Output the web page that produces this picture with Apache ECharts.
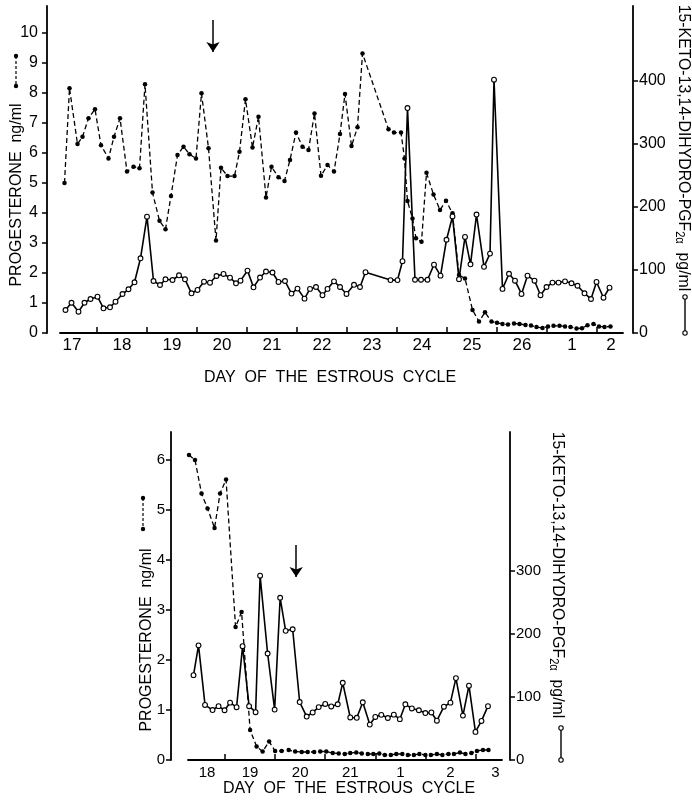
<!DOCTYPE html>
<html>
<head>
<meta charset="utf-8">
<script src="https://cdn.jsdelivr.net/npm/echarts@6/dist/echarts.min.js"></script>
<style>
  html, body { margin: 0; padding: 0; background: #fff; }
  #chart { width: 692px; height: 801px; }
</style>
</head>
<body>
<div id="chart"></div>
<script>
// ---- data (x = days from start of panel, y = value) ----
const dayLabelsTop = ['17', '18', '19', '20', '21', '22', '23', '24', '25', '26', '1', '2'];
const dayLabelsBottom = ['18', '19', '20', '21', '1', '2', '3'];
const progTicksTop = [0, 1, 2, 3, 4, 5, 6, 7, 8, 9, 10];
const pgfTicksTop = [0, 100, 200, 300, 400];
const progTicksBottom = [0, 1, 2, 3, 4, 5, 6];
const pgfTicksBottom = [0, 100, 200, 300];

// top panel: progesterone (ng/ml)
const progTopDay = [
  0.35, 0.45, 0.61, 0.71, 0.83, 0.96, 1.08, 1.23, 1.34, 1.46,
  1.60, 1.73, 1.85, 1.96, 2.11, 2.25, 2.37, 2.48, 2.61, 2.73,
  2.85, 2.98, 3.09, 3.23, 3.38, 3.48, 3.61, 3.75, 3.85, 3.97,
  4.11, 4.23, 4.38, 4.49, 4.63, 4.75, 4.86, 4.98, 5.11, 5.23,
  5.35, 5.48, 5.61, 5.74, 5.86, 5.96, 6.09, 6.21, 6.31, 6.83,
  6.94, 7.08, 7.15, 7.21, 7.31, 7.38, 7.49, 7.59, 7.73, 7.86,
  7.98, 8.11, 8.24, 8.36, 8.51, 8.64, 8.76, 8.89, 9.00, 9.11,
  9.22, 9.34, 9.45, 9.57, 9.68, 9.79, 9.91, 10.02, 10.13, 10.25,
  10.36, 10.47, 10.59, 10.70, 10.81, 10.93, 11.04, 11.15, 11.27
];
const progTop = [
  5.0, 8.16, 6.3, 6.54, 7.16, 7.46, 6.26, 5.82, 6.54, 7.16,
  5.38, 5.54, 5.49, 8.29, 4.68, 3.74, 3.46, 4.57, 5.93, 6.21,
  5.96, 5.82, 7.99, 6.16, 3.08, 5.51, 5.23, 5.23, 6.04, 7.79,
  6.18, 7.21, 4.52, 5.54, 5.19, 5.07, 5.77, 6.68, 6.21, 6.1,
  7.32, 5.24, 5.6, 5.38, 6.63, 7.97, 6.23, 6.86, 9.32, 6.79,
  6.68, 6.68, 5.82, 4.4, 3.82, 3.16, 3.04, 5.34, 4.62, 4.1,
  4.41, 3.99, 1.93, 1.82, 0.77, 0.38, 0.69, 0.38, 0.34, 0.3,
  0.28, 0.32, 0.3, 0.27, 0.25, 0.2, 0.17, 0.22, 0.24, 0.24,
  0.22, 0.2, 0.15, 0.16, 0.26, 0.3, 0.22, 0.2, 0.22
];

// top panel: 15-keto-13,14-dihydro-PGF2a (pg/ml)
const pgfTopDay = [
  0.37, 0.49, 0.63, 0.75, 0.87, 1.01, 1.13, 1.26, 1.37, 1.51,
  1.63, 1.75, 1.87, 2.0, 2.13, 2.26, 2.37, 2.51, 2.64, 2.76,
  2.89, 3.01, 3.14, 3.26, 3.39, 3.53, 3.66, 3.78, 3.87, 4.01,
  4.13, 4.26, 4.38, 4.51, 4.63, 4.76, 4.89, 5.01, 5.15, 5.26,
  5.38, 5.51, 5.61, 5.74, 5.86, 5.99, 6.14, 6.26, 6.37, 6.87,
  7.01, 7.11, 7.21, 7.36, 7.48, 7.61, 7.74, 7.87, 7.99, 8.11,
  8.24, 8.36, 8.47, 8.59, 8.74, 8.86, 8.94, 9.11, 9.24, 9.36,
  9.49, 9.61, 9.75, 9.87, 9.99, 10.11, 10.23, 10.36, 10.49, 10.61,
  10.75, 10.88, 10.99, 11.13, 11.25
];
const pgfTop = [
  36.5, 48, 33.8, 48, 54, 57.6, 39.2, 40.8, 49.7, 61.9,
  69.4, 80.5, 118.6, 184.6, 82.5, 76.2, 85.2, 84.1, 91.6, 85.2,
  63, 68.3, 81.4, 79.8, 90.5, 93.7, 87.8, 78.9, 83, 99,
  72.5, 88, 97.6, 96, 81, 82.5, 62.5, 70.5, 54.5, 70,
  73, 60, 70, 82, 73, 62, 76.5, 73, 96.5, 84,
  84, 114, 357, 84.5, 84.5, 84.5, 108.5, 91, 148, 185,
  85.5, 152.5, 109, 188, 105, 126, 402, 70, 94, 83,
  62, 91, 83, 60, 73, 80, 80, 82, 79, 75,
  63, 54, 81, 56, 72
];

// bottom panel: progesterone (ng/ml)
const progBottomDay = [
  0.28, 0.4, 0.53, 0.65, 0.79, 0.9, 1.02, 1.21, 1.33, 1.5,
  1.63, 1.75, 1.88, 2.0, 2.13, 2.27, 2.4, 2.53, 2.65, 2.78,
  2.9, 3.02, 3.15, 3.27, 3.39, 3.5, 3.62, 3.73, 3.85, 3.96,
  4.08, 4.19, 4.31, 4.42, 4.54, 4.65, 4.77, 4.88, 5.0, 5.11,
  5.23, 5.34, 5.46, 5.57, 5.69, 5.8, 5.92, 6.03, 6.15, 6.26
];
const progBottom = [
  6.1, 6.0, 5.33, 5.03, 4.64, 5.33, 5.61, 2.66, 2.96, 0.6,
  0.27, 0.17, 0.37, 0.18, 0.18, 0.2, 0.17, 0.16, 0.16, 0.16,
  0.17, 0.17, 0.14, 0.13, 0.12, 0.14, 0.15, 0.13, 0.12, 0.12,
  0.13, 0.1, 0.1, 0.12, 0.12, 0.1, 0.1, 0.12, 0.1, 0.1,
  0.12, 0.1, 0.12, 0.12, 0.15, 0.12, 0.14, 0.18, 0.2, 0.2
];

// bottom panel: 15-keto-13,14-dihydro-PGF2a (pg/ml)
const pgfBottomDay = [
  0.37, 0.47, 0.6, 0.75, 0.87, 0.99, 1.1, 1.23, 1.35, 1.48,
  1.61, 1.7, 1.85, 1.99, 2.1, 2.21, 2.35, 2.49, 2.63, 2.75,
  2.87, 3.0, 3.12, 3.25, 3.35, 3.5, 3.63, 3.75, 3.89, 4.0,
  4.12, 4.25, 4.37, 4.49, 4.6, 4.73, 4.87, 5.0, 5.12, 5.23,
  5.37, 5.5, 5.61, 5.75, 5.87, 6.0, 6.12, 6.25
];
const pgfBottom = [
  134.7, 182, 87.4, 79.3, 85.5, 79, 91, 83.8, 180.7, 85.4,
  75.9, 292.5, 169, 80, 257.5, 205, 207.5, 92, 69, 75.5,
  84, 89, 85, 88.5, 122.5, 67.5, 67, 91.6, 56.2, 68.3,
  71.7, 66.7, 72, 64.8, 88.4, 81.8, 79, 74.5, 75.5, 62.4,
  84.6, 91, 130, 70.5, 118, 44.6, 62, 85.5
];

// treatment arrows (day, from value, to value on the progesterone scale)
const arrowTop = [3.32, 10.43, 9.37];
const arrowBottom = [2.42, 4.3, 3.66];

// ---- chart ----
const FONT = '"Liberation Sans", Arial, sans-serif';
const chart = echarts.init(document.getElementById('chart'));

function pairs(xs, ys) {
  return xs.map((x, i) => [x, ys[i]]);
}

function dayAxis(grid, min, max, ticks, labelPos, labels, size, margin) {
  return {
    type: 'value', gridIndex: grid, min: min, max: max,
    axisLine: { show: true, onZero: false, lineStyle: { color: '#000', width: 1.8 } },
    axisTick: { show: true, inside: true, length: 6, customValues: ticks, lineStyle: { color: '#000', width: 1.5 } },
    axisLabel: {
      customValues: labelPos, color: '#000', fontSize: size, fontFamily: FONT, margin: margin,
      formatter: v => labels[Math.floor(v + 1e-6)]
    },
    splitLine: { show: false }
  };
}

function valAxis(grid, pos, offset, max, ticks, size, margin) {
  return {
    type: 'value', gridIndex: grid, position: pos, offset: offset, min: 0, max: max,
    axisLine: { show: true, lineStyle: { color: '#000', width: 1.8 } },
    axisTick: { show: true, length: 5, customValues: ticks, lineStyle: { color: '#000', width: 1.5 } },
    axisLabel: { customValues: ticks, color: '#000', fontSize: size, fontFamily: FONT, margin: margin },
    splitLine: { show: false }
  };
}

function progSeries(x, y, days, vals, arrow) {
  return {
    type: 'line', xAxisIndex: x, yAxisIndex: y, data: pairs(days, vals),
    symbol: 'circle', symbolSize: 4.5, z: 2,
    lineStyle: { color: '#000', width: 1.3, type: [5, 3] },
    itemStyle: { color: '#000' },
    emphasis: { disabled: true },
    markLine: {
      silent: true, animation: false, symbol: ['none', 'arrow'], symbolSize: 10,
      label: { show: false },
      lineStyle: { color: '#000', width: 1.5, type: 'solid' },
      data: [[{ coord: [arrow[0], arrow[1]] }, { coord: [arrow[0], arrow[2]] }]]
    }
  };
}

function pgfSeries(x, y, days, vals) {
  return {
    type: 'line', xAxisIndex: x, yAxisIndex: y, data: pairs(days, vals),
    symbol: 'circle', symbolSize: 4.8, z: 3,
    lineStyle: { color: '#000', width: 1.6 },
    itemStyle: { color: '#fff', borderColor: '#000', borderWidth: 1.1 },
    emphasis: { disabled: true }
  };
}

function vText(x, y, text, rot, size, sx) {
  return {
    type: 'text', x: x, y: y, rotation: rot, scaleX: sx, silent: true,
    style: {
      text: text, fill: '#000', font: size + 'px ' + FONT,
      align: 'center', verticalAlign: 'middle',
      rich: { sub: { fontSize: 12, fontFamily: FONT, lineHeight: 22, verticalAlign: 'bottom' } }
    }
  };
}

function keyDashed(x, y1, y2) {
  return {
    type: 'group', silent: true, children: [
      { type: 'line', shape: { x1: x, y1: y1, x2: x, y2: y2 }, style: { stroke: '#000', lineWidth: 1.2, lineDash: [3, 2] } },
      { type: 'circle', shape: { cx: x, cy: y1, r: 2.2 }, style: { fill: '#000' } },
      { type: 'circle', shape: { cx: x, cy: y2, r: 2.2 }, style: { fill: '#000' } }
    ]
  };
}

function keySolid(x, y1, y2) {
  return {
    type: 'group', silent: true, children: [
      { type: 'line', shape: { x1: x, y1: y1, x2: x, y2: y2 }, style: { stroke: '#000', lineWidth: 1.4 } },
      { type: 'circle', shape: { cx: x, cy: y1, r: 2.2 }, style: { fill: '#fff', stroke: '#000', lineWidth: 1.1 } },
      { type: 'circle', shape: { cx: x, cy: y2, r: 2.2 }, style: { fill: '#fff', stroke: '#000', lineWidth: 1.1 } }
    ]
  };
}

const pgfName = '15-KETO-13,14-DIHYDRO-PGF{sub|2α}  pg/ml';

const option = {
  animation: false,
  backgroundColor: '#fff',
  grid: [
    { left: 60, top: 6, width: 563, height: 327, outerBoundsMode: 'none' },
    { left: 188, top: 432, width: 314, height: 328, outerBoundsMode: 'none' }
  ],
  xAxis: [
    dayAxis(0, 0.26, 11.52, [1, 2, 3, 4, 5, 6, 7, 8, 9, 10, 11],
      [0.5, 1.5, 2.5, 3.5, 4.5, 5.5, 6.5, 7.5, 8.5, 9.5, 10.5, 11.28], dayLabelsTop, 17, 4),
    dayAxis(1, 0.26, 6.53, [1, 2, 3, 4, 5, 6],
      [0.64, 1.5, 2.5, 3.5, 4.5, 5.5, 6.4], dayLabelsBottom, 15, 5)
  ],
  yAxis: [
    valAxis(0, 'left', 13, 10.9, progTicksTop, 16, 9),
    valAxis(0, 'right', 10, 519, pgfTicksTop, 16, 6),
    valAxis(1, 'left', 17, 6.56, progTicksBottom, 15, 6),
    valAxis(1, 'right', 8, 520.6, pgfTicksBottom, 15, 6)
  ],
  series: [
    progSeries(0, 0, progTopDay, progTop, arrowTop),
    pgfSeries(0, 1, pgfTopDay, pgfTop),
    progSeries(1, 2, progBottomDay, progBottom, arrowBottom),
    pgfSeries(1, 3, pgfBottomDay, pgfBottom)
  ],
  graphic: [
    vText(17, 195, 'PROGESTERONE  ng/ml', Math.PI / 2, 16, 1),
    keyDashed(16, 56, 86),
    vText(684, 148, pgfName, -Math.PI / 2, 17, 0.93),
    keySolid(685, 297, 333),
    vText(330, 378, 'DAY  OF  THE  ESTROUS  CYCLE', 0, 16, 1),

    vText(147, 640, 'PROGESTERONE  ng/ml', Math.PI / 2, 16, 1),
    keyDashed(143, 498, 529),
    vText(558, 575, pgfName, -Math.PI / 2, 17, 0.93),
    keySolid(561, 728, 760),
    vText(349, 789, 'DAY  OF  THE  ESTROUS  CYCLE', 0, 16, 1)
  ]
};

chart.setOption(option);
</script>
</body>
</html>
